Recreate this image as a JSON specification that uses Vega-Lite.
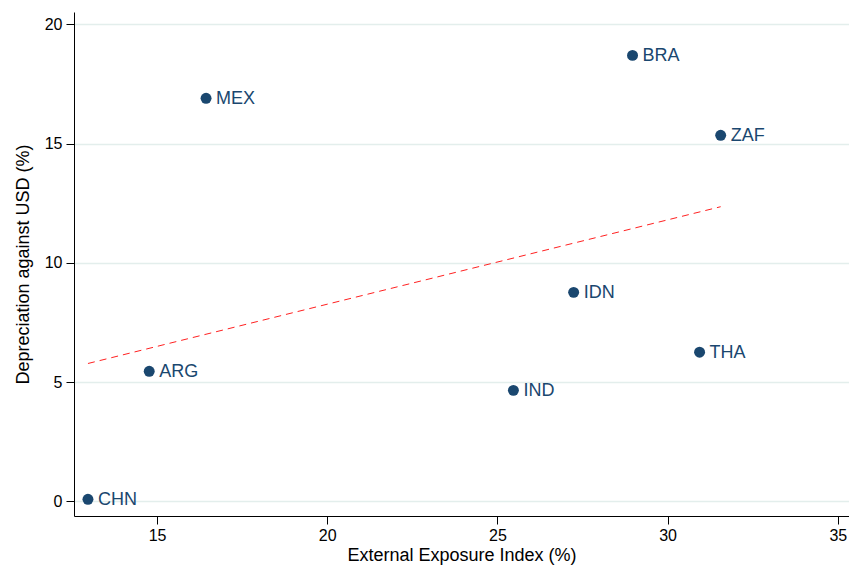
{
  "$schema": "https://vega.github.io/schema/vega-lite/v6.json",
  "width": 775,
  "height": 504,
  "autosize": {"type": "none"},
  "padding": {"left": 74, "top": 12, "right": 0, "bottom": 51},
  "background": "white",
  "config": {
    "view": {"stroke": null},
    "font": "Liberation Sans",
    "axis": {
      "labelFont": "Liberation Sans",
      "titleFont": "Liberation Sans",
      "labelFontSize": 16,
      "titleFontSize": 18,
      "titleFontWeight": "normal",
      "labelColor": "#000000",
      "titleColor": "#000000",
      "domainColor": "#000000",
      "tickColor": "#000000",
      "tickSize": 8,
      "domainWidth": 1,
      "tickWidth": 1
    }
  },
  "data": {
    "values": [
      {"country": "CHN", "exposure": 12.97, "depreciation": 0.08},
      {"country": "ARG", "exposure": 14.77, "depreciation": 5.45},
      {"country": "MEX", "exposure": 16.44, "depreciation": 16.9},
      {"country": "BRA", "exposure": 28.97, "depreciation": 18.7},
      {"country": "ZAF", "exposure": 31.56, "depreciation": 15.35},
      {"country": "IDN", "exposure": 27.24, "depreciation": 8.76},
      {"country": "IND", "exposure": 25.47, "depreciation": 4.65},
      {"country": "THA", "exposure": 30.94, "depreciation": 6.25}
    ]
  },
  "encoding": {
    "x": {
      "field": "exposure",
      "type": "quantitative",
      "scale": {"domain": [12.56, 35.33], "nice": false, "zero": false},
      "axis": {
        "title": "External Exposure Index (%)",
        "values": [15, 20, 25, 30, 35],
        "grid": false,
        "labelPadding": 3,
        "titlePadding": 3
      }
    },
    "y": {
      "field": "depreciation",
      "type": "quantitative",
      "scale": {"domain": [-0.62, 20.52], "nice": false, "zero": false},
      "axis": {
        "title": "Depreciation against USD (%)",
        "values": [0, 5, 10, 15, 20],
        "grid": true,
        "gridColor": "#e3eeec",
        "gridWidth": 1.5,
        "labelPadding": 4,
        "titlePadding": 12
      }
    }
  },
  "layer": [
    {
      "transform": [{"regression": "depreciation", "on": "exposure"}],
      "mark": {"type": "line", "color": "#ff2020", "strokeWidth": 1, "strokeDash": [7, 5]},
      "encoding": {}
    },
    {
      "mark": {"type": "circle", "color": "#1a476f", "opacity": 1, "size": 120}
    },
    {
      "mark": {"type": "text", "align": "left", "baseline": "middle", "dx": 10, "dy": 1, "fontSize": 18, "color": "#1a476f", "font": "Liberation Sans"},
      "encoding": {"text": {"field": "country"}}
    }
  ]
}
